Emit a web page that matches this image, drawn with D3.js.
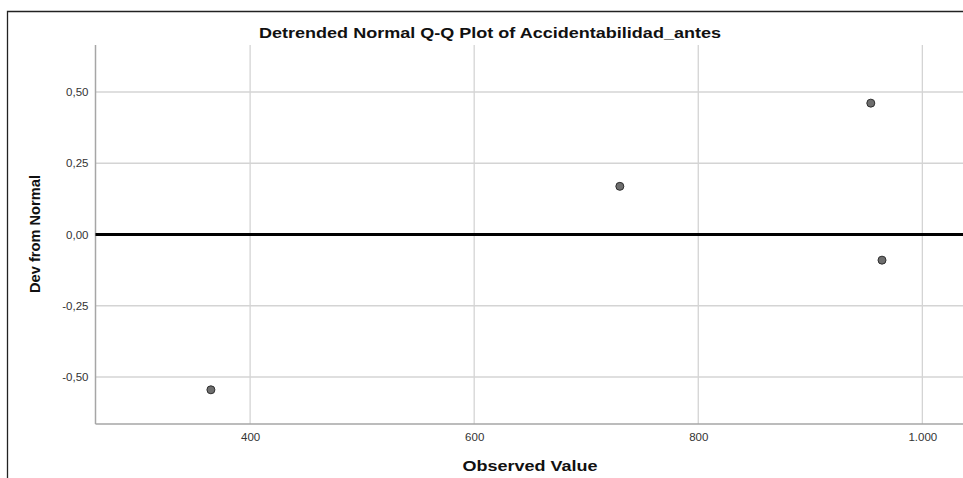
<!DOCTYPE html>
<html>
<head>
<meta charset="utf-8">
<script src="https://cdn.jsdelivr.net/npm/d3@7"></script>
<style>
  body { margin: 0; background: #fff; overflow: hidden; }
  svg { display: block; font-family: "Liberation Sans", Arial, sans-serif; }
</style>
</head>
<body>
<svg id="chart" width="963" height="478"></svg>
<script>
// data
var observedValues = [365, 730, 954, 964];
var devFromNormal = [-0.545, 0.169, 0.461, -0.090];
var xTicks = [400, 600, 800, 1000];
var yTicks = [-0.5, -0.25, 0, 0.25, 0.5];

var chartTitle = "Detrended Normal Q-Q Plot of Accidentabilidad_antes";
var xTitle = "Observed Value";
var yTitle = "Dev from Normal";

var svg = d3.select("#chart");

var plotLeft = 95.5, plotTop = 45, plotBottom = 424, plotRight = 975;

var loc = d3.formatLocale({ decimal: ",", thousands: ".", grouping: [3], currency: ["", ""], minus: "-" });

var x = d3.scaleLinear().domain([262, 1047]).range([plotLeft, plotRight]);
var y = d3.scaleLinear().domain([-0.665, 0.665]).range([plotBottom, plotTop]);

// outer frame (runs off the right and bottom of the picture)
svg.append("path")
  .attr("d", "M7.5,490V11.5H980")
  .attr("fill", "none")
  .attr("stroke", "#222")
  .attr("stroke-width", 1.3);

// grid
svg.append("g")
  .selectAll("line")
  .data(xTicks)
  .enter().append("line")
  .attr("x1", function (d) { return x(d); })
  .attr("x2", function (d) { return x(d); })
  .attr("y1", plotTop)
  .attr("y2", plotBottom)
  .attr("stroke", "#d4d4d4")
  .attr("stroke-width", 1.3);

svg.append("g")
  .selectAll("line")
  .data(yTicks.filter(function (d) { return d !== 0; }))
  .enter().append("line")
  .attr("x1", plotLeft)
  .attr("x2", plotRight)
  .attr("y1", function (d) { return y(d); })
  .attr("y2", function (d) { return y(d); })
  .attr("stroke", "#d4d4d4")
  .attr("stroke-width", 1.3);

// axes
var xAxis = svg.append("g")
  .attr("transform", "translate(0," + plotBottom + ")")
  .call(d3.axisBottom(x).tickValues(xTicks).tickSize(0).tickPadding(9).tickFormat(loc.format(",d")));

var yAxis = svg.append("g")
  .attr("transform", "translate(" + plotLeft + ",0)")
  .call(d3.axisLeft(y).tickValues(yTicks).tickSize(0).tickPadding(7).tickFormat(loc.format(".2f")));

[xAxis, yAxis].forEach(function (ax) {
  ax.select(".domain").remove();
  ax.selectAll("text")
    .attr("font-family", "Liberation Sans, Arial, sans-serif")
    .attr("font-size", 11.5)
    .attr("fill", "#333");
});

svg.append("line")
  .attr("x1", plotLeft).attr("x2", plotLeft)
  .attr("y1", plotTop).attr("y2", plotBottom)
  .attr("stroke", "#a6a6a6").attr("stroke-width", 1.5);

svg.append("line")
  .attr("x1", plotLeft).attr("x2", plotRight)
  .attr("y1", plotBottom).attr("y2", plotBottom)
  .attr("stroke", "#a6a6a6").attr("stroke-width", 1.5);

// reference line at zero
svg.append("line")
  .attr("x1", plotLeft).attr("x2", plotRight)
  .attr("y1", y(0)).attr("y2", y(0))
  .attr("stroke", "#000").attr("stroke-width", 3);

// points
svg.append("g")
  .selectAll("circle")
  .data(observedValues)
  .enter().append("circle")
  .attr("cx", function (d) { return x(d); })
  .attr("cy", function (d, i) { return y(devFromNormal[i]); })
  .attr("r", 4)
  .attr("fill", "#6e6e6e")
  .attr("stroke", "#2e2e2e")
  .attr("stroke-width", 1);

// titles
svg.append("text")
  .attr("x", 490).attr("y", 38)
  .attr("text-anchor", "middle")
  .attr("font-size", 15)
  .attr("font-weight", "bold")
  .attr("fill", "#111")
  .attr("textLength", 462)
  .attr("lengthAdjust", "spacingAndGlyphs")
  .text(chartTitle);

svg.append("text")
  .attr("x", 530).attr("y", 471)
  .attr("text-anchor", "middle")
  .attr("font-size", 15)
  .attr("font-weight", "bold")
  .attr("fill", "#111")
  .attr("textLength", 135)
  .attr("lengthAdjust", "spacingAndGlyphs")
  .text(xTitle);

svg.append("text")
  .attr("transform", "translate(40,234) rotate(-90)")
  .attr("text-anchor", "middle")
  .attr("font-size", 15)
  .attr("font-weight", "bold")
  .attr("fill", "#111")
  .attr("textLength", 118)
  .attr("lengthAdjust", "spacingAndGlyphs")
  .text(yTitle);
</script>
</body>
</html>
